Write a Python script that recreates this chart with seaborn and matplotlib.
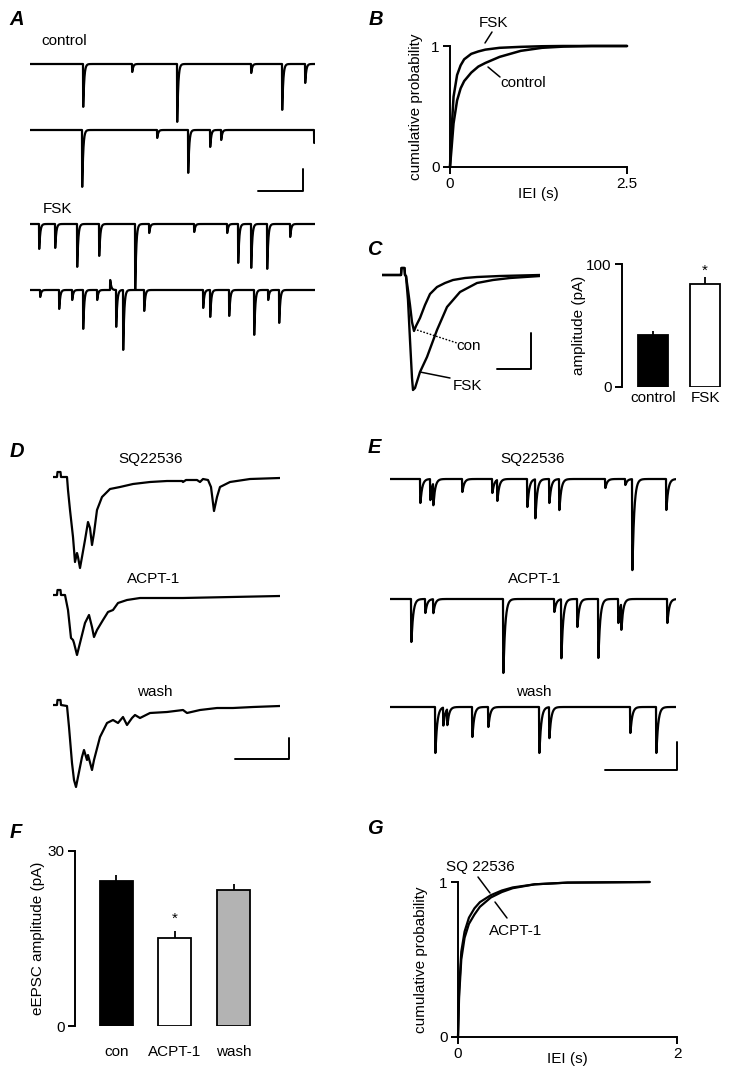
import numpy as np
import matplotlib
matplotlib.use("Agg")
import matplotlib.pyplot as plt
import seaborn as sns
from matplotlib.lines import Line2D

sns.set_theme(style="ticks")
plt.rcParams['font.family'] = ['Liberation Sans', 'DejaVu Sans']
plt.rcParams['font.size'] = 11
plt.rcParams['text.color'] = 'black'
plt.rcParams['axes.labelcolor'] = 'black'
plt.rcParams['xtick.color'] = 'black'
plt.rcParams['ytick.color'] = 'black'

# ------------------------------------------------------------------ DATA
# Panel A: spontaneous events (onset s, amplitude pA); each sweep 2.85 s
A_DUR = 2.85
a_ctrl1_t = [0.53, 1.02, 1.47, 2.21, 2.52, 2.75]
a_ctrl1_a = [43, 8, 58, 9, 46, 19]
a_ctrl2_t = [0.52, 1.27, 1.58, 1.80, 1.91, 2.84]
a_ctrl2_a = [57, 8, 43, 17, 10, 13]
a_fsk1_t = [0.09, 0.25, 0.47, 0.69, 1.05, 1.19, 1.64, 1.97, 2.08, 2.21, 2.37, 2.60]
a_fsk1_a = [25, 24, 43, 32, 66, 9, 8, 9, 39, 44, 45, 13]
a_fsk2_t = [0.10, 0.29, 0.42, 0.53, 0.67, 0.80, 0.86, 0.93, 1.14, 1.73, 1.80, 1.99, 2.24, 2.38, 2.49]
a_fsk2_a = [7, 19, 10, 39, 10, -10, 37, 60, 21, 18, 27, 26, 45, 10, 33]

# Panel B: cumulative IEI distributions
b_t = [0, 0.02, 0.05, 0.1, 0.15, 0.2, 0.3, 0.4, 0.5, 0.7, 1.0, 1.3, 1.6, 2.0, 2.5]
b_fsk = [0, 0.28, 0.58, 0.76, 0.84, 0.89, 0.935, 0.955, 0.97, 0.985, 0.993, 0.998, 1.0, 1.0, 1.0]
b_ctrl = [0, 0.14, 0.36, 0.55, 0.65, 0.71, 0.78, 0.83, 0.86, 0.91, 0.96, 0.985, 0.995, 1.0, 1.0]

# Panel C: averaged eEPSC (time ms, current pA)
c_con_t = [-11, -1.5, -1.25, 0.25, 0.5, 1, 2, 3, 4, 5, 6, 8, 10.5, 13, 16.5, 20.5, 24.5, 30.5, 36.5, 48, 68]
c_con_i = [0, 0, 7, 7, 0, -1, -15, -30, -47, -56, -51, -43, -30, -19, -12, -8, -5, -3, -2, -1, 0]
c_fsk_t = [-11, -1.5, -1.25, 0.25, 0.5, 1, 2, 3, 4, 4.5, 5.5, 8, 11.5, 16.5, 21.5, 28, 36.5, 44.5, 53, 68]
c_fsk_i = [0, 0, 7, 7, 0, -1, -25, -65, -103, -115, -113, -97, -82, -55, -32, -17, -8, -5, -3, -1]
c_groups = ["control", "FSK"]
c_amp = [42.3, 83.7]
c_sem = [3.3, 5.7]

# Panel D: eEPSC sweeps (time ms, current pA)
d_sq_t = [-3.5, -1.5, -1.25, 0.25, 0.5, 3.5, 4, 5, 6.5, 7.5, 8.5, 9, 10, 11, 12.5, 14, 15, 16, 17,
          18.5, 21, 25, 30, 36.5, 45, 53.5, 61, 61.5, 63, 68.5, 70, 71.5, 74, 75.5, 77, 78.5, 80, 85, 95, 110]
d_sq_i = [0, 0, 5, 5, 0, 0, -13, -33, -60, -85, -76, -80, -91, -80, -63, -45, -51, -68, -56,
          -33, -20, -12, -10, -7, -5, -4, -4, -5, -3, -3, -5, -2, -3, -10, -34, -20, -10, -5, -2, -1]
d_ac_t = [-3.5, -1.5, -1.25, 0.25, 0.5, 2.5, 4, 5.5, 6.5, 7, 8.5, 10, 12.5, 14.5, 16, 17, 18.5,
          21.5, 24, 26.5, 29, 33.5, 40, 53.5, 61.5, 110]
d_ac_i = [0, 0, 5, 5, 0, 0, -15, -43, -45, -48, -60, -48, -28, -20, -32, -42, -35,
          -25, -17, -15, -8, -5, -3, -3, -3, -1]
d_wa_t = [-3.5, -1.5, -1.25, 0.25, 0.5, 3.5, 4.5, 6, 7, 8, 9, 11, 12, 13.5, 14, 16, 17, 20, 23.5,
          26.5, 29, 31.5, 33.5, 36, 37.5, 40, 45, 53.5, 61.5, 63.5, 70, 78.5, 86.5, 96.5, 110]
d_wa_i = [0, 0, 5, 5, 0, -1, -22, -58, -75, -82, -72, -52, -45, -55, -50, -65, -55, -32, -18,
          -15, -18, -12, -20, -13, -10, -13, -8, -7, -5, -8, -5, -3, -3, -2, -1]

# Panel E: spontaneous events (onset s, amplitude pA); each sweep 2.86 s
E_DUR = 2.86
e_sq_t = [0.30, 0.40, 0.43, 0.72, 1.02, 1.07, 1.37, 1.45, 1.59, 1.69, 2.15, 2.35, 2.42, 2.76]
e_sq_a = [24, 21, 22, 13, 14, 21, 28, 39, 24, 31, 9, 6, 91, 31]
e_ac_t = [0.21, 0.35, 0.43, 1.13, 1.64, 1.71, 1.87, 2.08, 2.28, 2.31, 2.77]
e_ac_a = [43, 14, 14, 74, 13, 59, 28, 59, 24, 26, 24]
e_wa_t = [0.45, 0.53, 0.57, 0.82, 0.98, 1.49, 1.59, 2.40, 2.66]
e_wa_a = [46, 18, 16, 30, 20, 46, 31, 26, 46]

# Panel F: eEPSC amplitude
f_groups = ["con", "ACPT-1", "wash"]
f_amp = [24.9, 15.1, 23.3]
f_sem = [1.0, 1.2, 1.0]

# Panel G: cumulative IEI distributions
g_t = [0, 0.01, 0.03, 0.06, 0.1, 0.15, 0.2, 0.3, 0.4, 0.5, 0.7, 1.0, 1.75]
g_sq = [0, 0.30, 0.55, 0.68, 0.77, 0.83, 0.87, 0.915, 0.945, 0.965, 0.985, 0.996, 1.0]
g_ac = [0, 0.26, 0.50, 0.64, 0.73, 0.79, 0.84, 0.90, 0.935, 0.96, 0.985, 0.996, 1.0]

# ------------------------------------------------------------------ LAYOUT HELPERS
W, H = 731, 1076
fig = plt.figure(figsize=(W / 100, H / 100), dpi=100)
fig.patch.set_facecolor('white')
LW_AX = 1.4


def add_ax(x0, y0, x1, y1):
    ax = fig.add_axes([x0 / W, 1 - y1 / H, (x1 - x0) / W, (y1 - y0) / H])
    ax.patch.set_alpha(0)
    return ax


def pxline(xs, ys, **kw):
    kw.setdefault('color', 'black')
    kw.setdefault('lw', 1.4)
    fig.add_artist(Line2D([x / W for x in xs], [1 - y / H for y in ys],
                          transform=fig.transFigure, **kw))


def pxtext(x, y, s, **kw):
    kw.setdefault('ha', 'center')
    kw.setdefault('va', 'baseline')
    kw.setdefault('fontsize', 11)
    fig.text(x / W, 1 - y / H, s, **kw)


def panel_letter(x, y, s):
    pxtext(x, y, s, fontsize=14.5, fontweight='bold', fontstyle='italic')


def events_trace(dur, onsets, amps, tau_r, tau_d, dt=0.0005):
    t = np.arange(0, dur, dt)
    y = np.zeros_like(t)
    tp = tau_r * tau_d / (tau_d - tau_r) * np.log(tau_d / tau_r)
    norm = np.exp(-tp / tau_d) - np.exp(-tp / tau_r)
    for t0, a in zip(onsets, amps):
        s = t - t0
        m = s >= 0
        y[m] -= a * (np.exp(-s[m] / tau_d) - np.exp(-s[m] / tau_r)) / norm
    return t, y


def trace_ax(x0, x1, y_top, y_bot, xlim, ylim, t, i, lw=1.5):
    ax = add_ax(x0, y_top, x1, y_bot)
    sns.lineplot(x=t, y=i, ax=ax, color='black', lw=lw, estimator=None,
                 sort=False, errorbar=None)
    ax.set_xlim(*xlim)
    ax.set_ylim(*ylim)
    ax.axis('off')
    return ax


def style_axes(ax):
    for sp in ['left', 'bottom']:
        ax.spines[sp].set_linewidth(LW_AX)
        ax.spines[sp].set_color('black')
    ax.tick_params(axis='both', length=5, width=LW_AX, pad=2.5, labelsize=11,
                   direction='out', color='black')


# ------------------------------------------------------------------ PANEL A
panel_letter(16.5, 25, 'A')
pxtext(64.5, 45, 'control')
pxtext(57, 213, 'FSK')
for (tt, aa, base, top, bot) in [(a_ctrl1_t, a_ctrl1_a, 64, 54, 134),
                                 (a_ctrl2_t, a_ctrl2_a, 130, 120, 200),
                                 (a_fsk1_t, a_fsk1_a, 224, 214, 300),
                                 (a_fsk2_t, a_fsk2_a, 290, 275, 360)]:
    t, i = events_trace(A_DUR, tt, aa, 0.0008, 0.010)
    trace_ax(30, 315, top, bot, (0, A_DUR), (base - bot, base - top), t, i, lw=1.6)
pxline([258, 303, 303], [191, 191, 169])

# ------------------------------------------------------------------ PANEL B
panel_letter(376, 25, 'B')
axb = add_ax(450, 46, 627, 167)
sns.lineplot(x=b_t, y=b_ctrl, ax=axb, color='black', lw=1.8, estimator=None, sort=False)
sns.lineplot(x=b_t, y=b_fsk, ax=axb, color='black', lw=1.8, estimator=None, sort=False)
for ln in axb.lines:
    ln.set_clip_on(False)
axb.set_xlim(0, 2.5)
axb.set_ylim(0, 1)
axb.set_xticks([0, 2.5])
axb.set_xticklabels(['0', '2.5'])
axb.set_yticks([0, 1])
axb.set_yticklabels(['0', '1'])
axb.set_xlabel('IEI (s)', fontsize=11, labelpad=-3)
axb.set_ylabel('cumulative probability', fontsize=11, labelpad=6)
sns.despine(ax=axb)
style_axes(axb)
pxtext(493, 27, 'FSK')
pxline([492, 485], [32, 43], lw=1.1)
pxtext(523, 87, 'control')
pxline([500, 488], [77, 67], lw=1.1)

# ------------------------------------------------------------------ PANEL C
panel_letter(374, 255, 'C')
axc = add_ax(382, 262, 540, 395)
sns.lineplot(x=c_fsk_t, y=c_fsk_i, ax=axc, color='black', lw=1.7, estimator=None, sort=False)
sns.lineplot(x=c_con_t, y=c_con_i, ax=axc, color='black', lw=1.7, estimator=None, sort=False)
axc.set_xlim(-11, 68)
axc.set_ylim(-120, 13)
axc.axis('off')
pxline([417, 457], [330, 343], lw=1.0, ls=(0, (1.2, 1.2)))
pxtext(469, 350, 'con')
pxline([420, 450], [372, 378], lw=1.1)
pxtext(467, 390, 'FSK')
pxline([497, 531, 531], [369, 369, 333])

axcb = add_ax(622, 264, 726, 387)
sns.barplot(x=c_groups, y=c_amp, hue=c_groups, order=c_groups, hue_order=c_groups,
            palette={'control': 'black', 'FSK': 'white'}, edgecolor='black',
            linewidth=1.3, width=0.57, errorbar=None, legend=False, ax=axcb)
axcb.errorbar(x=[0, 1], y=c_amp, yerr=[[0, 0], c_sem], fmt='none', ecolor='black',
              elinewidth=1.3, capsize=0)
axcb.text(1, c_amp[1] + c_sem[1] - 0.5, '*', ha='center', va='bottom', fontsize=11)
axcb.set_xlim(-0.59, 1.4)
axcb.set_ylim(0, 100)
axcb.set_yticks([0, 100])
axcb.set_ylabel('amplitude (pA)', fontsize=11, labelpad=0)
axcb.set_xlabel('')
sns.despine(ax=axcb, bottom=True)
style_axes(axcb)
axcb.tick_params(axis='x', length=0, pad=3)

# ------------------------------------------------------------------ PANEL D
panel_letter(16.5, 457, 'D')
pxtext(151, 463, 'SQ22536')
pxtext(153.5, 583, 'ACPT-1')
pxtext(154.5, 696, 'wash')
trace_ax(53, 280, 467, 577, (-3.5, 110), (-100, 10), d_sq_t, d_sq_i, lw=1.6)
trace_ax(53, 280, 585, 665, (-3.5, 110), (-70, 10), d_ac_t, d_ac_i, lw=1.6)
trace_ax(53, 280, 695, 797, (-3.5, 110), (-92, 10), d_wa_t, d_wa_i, lw=1.6)
pxline([235, 289, 289], [759, 759, 738])

# ------------------------------------------------------------------ PANEL E
panel_letter(374, 453, 'E')
pxtext(533, 463, 'SQ22536')
pxtext(535, 583, 'ACPT-1')
pxtext(533.5, 696, 'wash')
for (tt, aa, base, top, bot) in [(e_sq_t, e_sq_a, 479, 469, 575),
                                 (e_ac_t, e_ac_a, 599, 589, 680),
                                 (e_wa_t, e_wa_a, 707, 697, 760)]:
    t, i = events_trace(E_DUR, tt, aa, 0.0012, 0.018)
    trace_ax(390, 676, top, bot, (0, E_DUR), (base - bot, base - top), t, i, lw=1.6)
pxline([605, 677, 677], [770, 770, 742])

# ------------------------------------------------------------------ PANEL F
panel_letter(15.5, 838, 'F')
axf = add_ax(75, 851, 269, 1026)
sns.barplot(x=f_groups, y=f_amp, hue=f_groups, order=f_groups, hue_order=f_groups,
            palette={'con': 'black', 'ACPT-1': 'white', 'wash': '#b3b3b3'},
            edgecolor='black', linewidth=1.3, width=0.56, errorbar=None, legend=False, ax=axf)
axf.errorbar(x=[0, 1, 2], y=f_amp, yerr=[[0, 0, 0], f_sem], fmt='none', ecolor='black',
             elinewidth=1.3, capsize=0)
axf.text(1, f_amp[1] + f_sem[1] + 0.9, '*', ha='center', va='bottom', fontsize=11)
axf.set_xlim(-0.70, 2.6)
axf.set_ylim(0, 30)
axf.set_yticks([0, 30])
axf.set_ylabel('eEPSC amplitude (pA)', fontsize=11, labelpad=2)
axf.set_xlabel('')
sns.despine(ax=axf, bottom=True)
style_axes(axf)
axf.tick_params(axis='x', length=0, pad=14)

# ------------------------------------------------------------------ PANEL G
panel_letter(375, 834, 'G')
axg = add_ax(458, 882, 677, 1037)
sns.lineplot(x=g_t, y=g_ac, ax=axg, color='black', lw=1.6, estimator=None, sort=False)
sns.lineplot(x=g_t, y=g_sq, ax=axg, color='black', lw=1.6, estimator=None, sort=False)
for ln in axg.lines:
    ln.set_clip_on(False)
axg.set_xlim(0, 2)
axg.set_ylim(0, 1)
axg.set_xticks([0, 2])
axg.set_yticks([0, 1])
axg.set_xlabel('IEI (s)', fontsize=11, labelpad=-7)
axg.set_ylabel('cumulative probability', fontsize=11, labelpad=8)
sns.despine(ax=axg)
style_axes(axg)
pxtext(480, 871, 'SQ 22536')
pxline([478, 490], [877, 893], lw=1.1)
pxtext(516, 935, 'ACPT-1')
pxline([495, 507], [902, 918], lw=1.1)

fig.savefig('out.png', dpi=100, facecolor='white')
